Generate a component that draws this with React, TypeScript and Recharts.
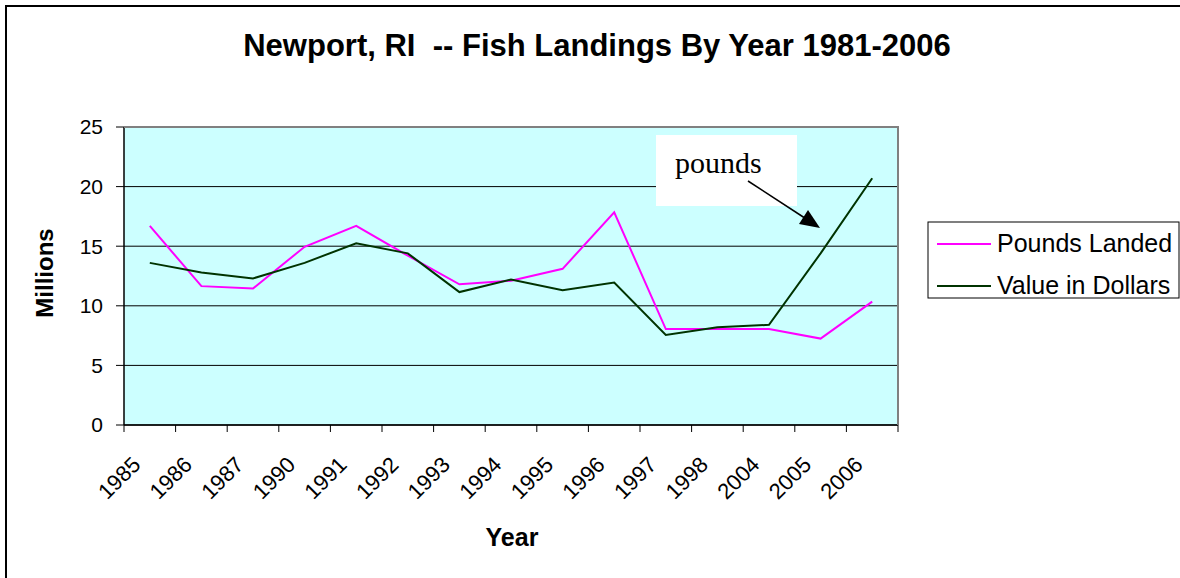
import React from "react";
import { LineChart, Line, XAxis, YAxis, CartesianGrid } from "recharts";

const years = ["1985", "1986", "1987", "1990", "1991", "1992", "1993", "1994", "1995", "1996", "1997", "1998", "2004", "2005", "2006"];
const poundsLanded = [16.7, 11.65, 11.45, 14.95, 16.7, 14.2, 11.8, 12.1, 13.1, 17.85, 8.05, 8.05, 8.05, 7.25, 10.35];
const valueInDollars = [13.6, 12.8, 12.3, 13.6, 15.25, 14.4, 11.15, 12.2, 11.3, 11.95, 7.55, 8.2, 8.4, 14.4, 20.7];
const yTicks = [0, 5, 10, 15, 20, 25];

const rows = years.map((year, i) => ({
	year,
	pounds: poundsLanded[i],
	value: valueInDollars[i],
}));

const W = 1180;
const H = 578;
const PLOT = { left: 124, top: 127, right: 898, bottom: 425 };
const STEP = (PLOT.right - PLOT.left) / years.length;
const FONT = "'Liberation Sans', Arial, sans-serif";

// excel style: tick marks between categories, label rotated -45
const YearTick = (props: any) => {
	const { x, y, payload, index } = props;
	const tx = x - 8;
	const ty = y + 41;
	return (
		<g>
			<line x1={x - STEP / 2} y1={y} x2={x - STEP / 2} y2={y + 7} stroke="#000" />
			{index === years.length - 1 && (
				<line x1={x + STEP / 2} y1={y} x2={x + STEP / 2} y2={y + 7} stroke="#000" />
			)}
			<text
				x={tx}
				y={ty}
				transform={`rotate(-45 ${tx} ${ty})`}
				textAnchor="end"
				fontFamily={FONT}
				fontSize={22}
				fill="#000"
			>
				{payload.value}
			</text>
		</g>
	);
};

export default function App() {
	return (
		<div style={{ position: "absolute", left: 0, top: 0, width: W, height: H, background: "#fff" }}>
			<LineChart
				width={W}
				height={H}
				data={rows}
				margin={{ top: PLOT.top, right: W - PLOT.right, bottom: H - PLOT.bottom - 30, left: PLOT.left - 60 }}
			>
				<CartesianGrid vertical={false} stroke="#000" fill="#CCFFFF" fillOpacity={1} />
				<XAxis
					dataKey="year"
					height={30}
					padding={{ left: STEP / 2, right: STEP / 2 }}
					axisLine={{ stroke: "#000", strokeWidth: 1.5 }}
					tickLine={false}
					tickSize={0}
					tickMargin={0}
					interval={0}
					tick={<YearTick />}
				/>
				<YAxis
					width={60}
					domain={[0, 25]}
					ticks={yTicks}
					interval={0}
					axisLine={{ stroke: "#000", strokeWidth: 1.5 }}
					tickLine={{ stroke: "#000" }}
					tickSize={8}
					tickMargin={13}
					tick={{ fill: "#000", fontSize: 21, fontFamily: FONT }}
				/>
				<Line
					type="linear"
					dataKey="pounds"
					name="Pounds Landed"
					stroke="#FF00FF"
					strokeWidth={2}
					dot={false}
					isAnimationActive={false}
				/>
				<Line
					type="linear"
					dataKey="value"
					name="Value in Dollars"
					stroke="#003300"
					strokeWidth={2}
					dot={false}
					isAnimationActive={false}
				/>
			</LineChart>

			<svg
				width={W}
				height={H}
				style={{ position: "absolute", left: 0, top: 0, pointerEvents: "none" }}
			>
				{/* outer chart border */}
				<rect x={6} y={6} width={W} height={H} fill="none" stroke="#000" strokeWidth={2} />
				{/* plot area border */}
				<path
					d={`M${PLOT.left},${PLOT.top} H${PLOT.right} V${PLOT.bottom}`}
					fill="none"
					stroke="#808080"
					strokeWidth={2}
				/>

				<text x={597} y={56} textAnchor="middle" fontFamily={FONT} fontSize={31} fontWeight="bold">
					Newport, RI{"\u00a0\u00a0"}-- Fish Landings By Year 1981-2006
				</text>
				<text
					x={53}
					y={273}
					transform="rotate(-90 53 273)"
					textAnchor="middle"
					fontFamily={FONT}
					fontSize={24}
					fontWeight="bold"
				>
					Millions
				</text>
				<text x={512} y={546} textAnchor="middle" fontFamily={FONT} fontSize={25} fontWeight="bold">
					Year
				</text>

				{/* annotation */}
				<rect x={656} y={135} width={141} height={71} fill="#fff" />
				<text x={675} y={173} fontFamily="'Liberation Serif', 'Times New Roman', serif" fontSize={30}>
					pounds
				</text>
				<line x1={748} y1={181} x2={804} y2={217.5} stroke="#000" strokeWidth={1.5} />
				<polygon points="820,228 799,224 808,210" fill="#000" />

				{/* legend */}
				<rect x={928} y={222} width={251} height={76} fill="#fff" stroke="#000" strokeWidth={1} />
				<line x1={937} y1={244} x2={991} y2={244} stroke="#FF00FF" strokeWidth={2} />
				<text x={997} y={252} fontFamily={FONT} fontSize={25}>
					Pounds Landed
				</text>
				<line x1={937} y1={286} x2={991} y2={286} stroke="#003300" strokeWidth={2} />
				<text x={997} y={294} fontFamily={FONT} fontSize={25}>
					Value in Dollars
				</text>
			</svg>
		</div>
	);
}
